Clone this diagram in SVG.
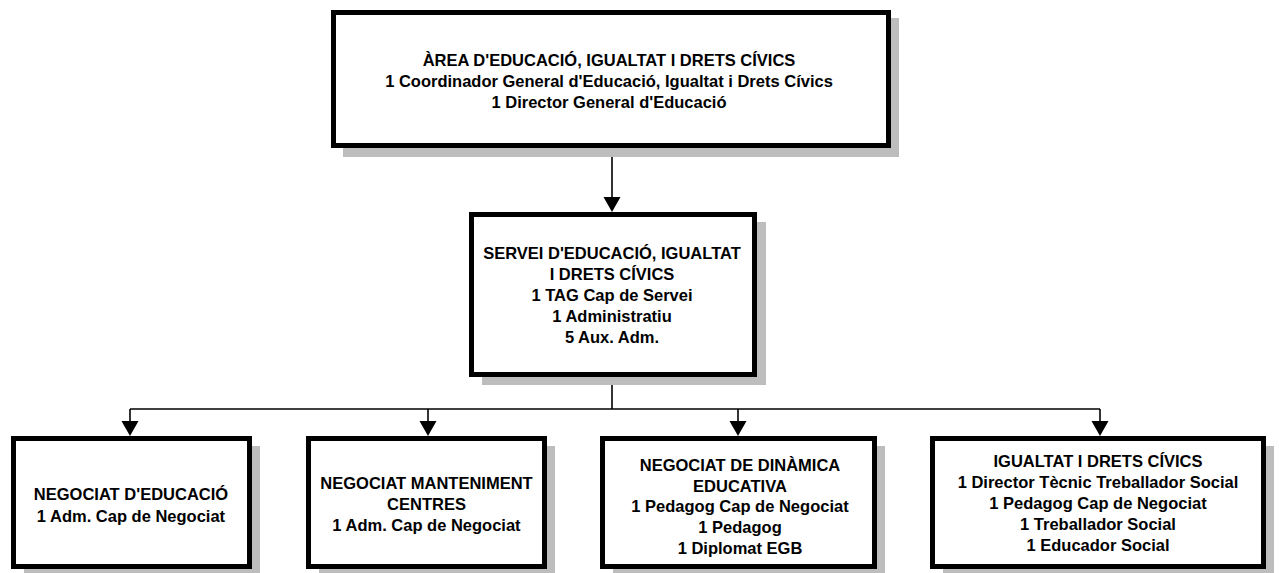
<svg xmlns="http://www.w3.org/2000/svg" width="1279" height="573" viewBox="0 0 1279 573">
<style>
.box{fill:#fff;stroke:#000;stroke-width:5}
.sh{fill:#bdbdbd}
.t{font-family:"Liberation Sans",Arial,sans-serif;font-weight:bold;font-size:16.5px;fill:#000;text-anchor:middle}
.ln{fill:none;stroke:#000;stroke-width:1.6}
.ah{fill:#000}
</style>
<defs>
<path id="head" d="M-8.5,-15 L8.5,-15 L0,0 Z"/>
</defs>
<rect width="1279" height="573" fill="#fff"/>
<g id="connectors">
<line class="ln" x1="612" y1="157" x2="612" y2="200"/>
<use href="#head" class="ah" x="612" y="212"/>
<line class="ln" x1="612" y1="385" x2="612" y2="409"/>
<line class="ln" x1="130" y1="409" x2="1100" y2="409"/>
<line class="ln" x1="130" y1="409" x2="130" y2="425"/>
<use href="#head" class="ah" x="130" y="436"/>
<line class="ln" x1="428" y1="409" x2="428" y2="425"/>
<use href="#head" class="ah" x="428" y="436"/>
<line class="ln" x1="738" y1="409" x2="738" y2="425"/>
<use href="#head" class="ah" x="738" y="436"/>
<line class="ln" x1="1100" y1="409" x2="1100" y2="425"/>
<use href="#head" class="ah" x="1100" y="436"/>
</g>
<g id="area">
<rect class="sh" x="891" y="18" width="8" height="139"/>
<rect class="sh" x="343" y="148" width="556" height="9"/>
<rect class="box" x="333.5" y="12.5" width="555" height="133"/>
<text class="t" x="609" y="66">ÀREA D'EDUCACIÓ, IGUALTAT I DRETS CÍVICS</text>
<text class="t" x="609" y="87">1 Coordinador General d'Educació, Igualtat i Drets Cívics</text>
<text class="t" x="609" y="108">1 Director General d'Educació</text>
</g>
<g id="servei">
<rect class="sh" x="757" y="222" width="9" height="163"/>
<rect class="sh" x="482" y="377" width="284" height="8"/>
<rect class="box" x="471.5" y="214.5" width="283" height="160"/>
<text class="t" x="612" y="259">SERVEI D'EDUCACIÓ, IGUALTAT</text>
<text class="t" x="612" y="280">I DRETS CÍVICS</text>
<text class="t" x="612" y="301">1 TAG Cap de Servei</text>
<text class="t" x="612" y="322">1 Administratiu</text>
<text class="t" x="612" y="343">5 Aux. Adm.</text>
</g>
<g id="negociat-educacio">
<rect class="sh" x="252" y="446" width="8" height="127"/>
<rect class="sh" x="24" y="569" width="236" height="4"/>
<rect class="box" x="13.5" y="438.5" width="236" height="128"/>
<text class="t" x="131" y="500">NEGOCIAT D'EDUCACIÓ</text>
<text class="t" x="131" y="522">1 Adm. Cap de Negociat</text>
</g>
<g id="negociat-manteniment">
<rect class="sh" x="547" y="446" width="8" height="127"/>
<rect class="sh" x="319" y="569" width="236" height="4"/>
<rect class="box" x="308.5" y="438.5" width="236" height="128"/>
<text class="t" x="426.5" y="489">NEGOCIAT MANTENIMENT</text>
<text class="t" x="426.5" y="510">CENTRES</text>
<text class="t" x="426.5" y="531">1 Adm. Cap de Negociat</text>
</g>
<g id="negociat-dinamica">
<rect class="sh" x="877" y="446" width="8" height="127"/>
<rect class="sh" x="613" y="569" width="272" height="4"/>
<rect class="box" x="602.5" y="438.5" width="272" height="128"/>
<text class="t" x="740" y="471">NEGOCIAT DE DINÀMICA</text>
<text class="t" x="740" y="492">EDUCATIVA</text>
<text class="t" x="740" y="512">1 Pedagog Cap de Negociat</text>
<text class="t" x="740" y="533">1 Pedagog</text>
<text class="t" x="740" y="554">1 Diplomat EGB</text>
</g>
<g id="igualtat">
<rect class="sh" x="1266" y="446" width="8" height="127"/>
<rect class="sh" x="943" y="569" width="331" height="4"/>
<rect class="box" x="932.5" y="438.5" width="331" height="128"/>
<text class="t" x="1098" y="467">IGUALTAT I DRETS CÍVICS</text>
<text class="t" x="1098" y="488">1 Director Tècnic Treballador Social</text>
<text class="t" x="1098" y="509">1 Pedagog Cap de Negociat</text>
<text class="t" x="1098" y="530">1 Treballador Social</text>
<text class="t" x="1098" y="551">1 Educador Social</text>
</g>
</svg>
